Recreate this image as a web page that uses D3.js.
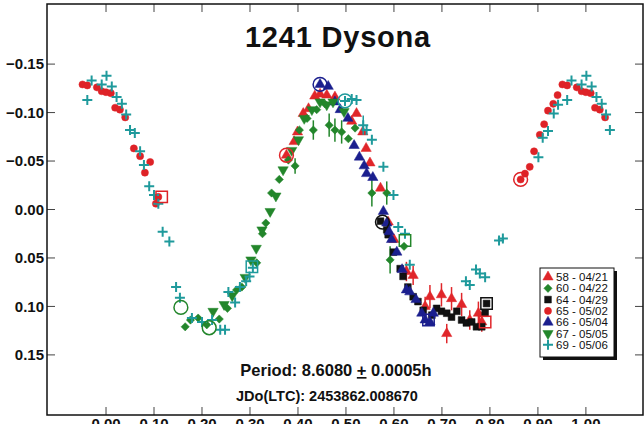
<!DOCTYPE html>
<html>
<head>
<meta charset="utf-8">
<script src="https://cdn.jsdelivr.net/npm/d3@7"></script>
<style>
  body { margin: 0; background: #fff; }
  svg { display: block; font-family: "Liberation Sans", Arial, sans-serif; }
</style>
</head>
<body>
<div class="center"></div>
<script>
// lightcurve data: [phase, magnitude, error]
var s58 = [[0.376,-0.056,0],[0.392,-0.070,0],[0.399,-0.080,0],[0.411,-0.099,0],[0.422,-0.104,0],[0.435,-0.117,0],
  [0.446,-0.119,0],[0.460,-0.118,0],[0.477,-0.116,0],[0.512,-0.091,0],[0.522,-0.099,0],[0.535,-0.080,0],
  [0.542,-0.063,0],[0.550,-0.048,0],[0.572,-0.022,0],[0.588,0.013,0],[0.600,0.031,0],[0.626,0.064,0.010],
  [0.640,0.068,0.010],[0.665,0.100,0.010],[0.675,0.090,0.012],[0.699,0.088,0.012],[0.710,0.128,0.010],
  [0.720,0.092,0.012],[0.741,0.098,0.012],[0.758,0.114,0.010],[0.776,0.107,0.012],[0.783,0.116,0.010]];
var s60 = [[0.165,0.121,0],[0.176,0.114,0],[0.192,0.112,0],[0.210,0.119,0],[0.236,0.113,0],[0.253,0.102,0],
  [0.272,0.083,0],[0.283,0.080,0],[0.314,0.055,0],[0.326,0.025,0],[0.333,0.014,0],[0.345,-0.017,0],
  [0.361,-0.031,0],[0.380,-0.051,0],[0.394,-0.045,0.008],[0.403,-0.082,0],[0.419,-0.094,0],[0.432,-0.082,0.010],
  [0.439,-0.103,0],[0.456,-0.109,0],[0.465,-0.087,0.012],[0.477,-0.082,0.012],[0.491,-0.080,0.012],
  [0.505,-0.073,0],[0.519,-0.084,0],[0.554,-0.017,0.014],[0.585,-0.017,0.012],[0.592,0.052,0.014],[0.621,0.038,0]];
var s64 = [[0.572,0.012,0],[0.585,0.021,0],[0.588,0.026,0],[0.599,0.044,0],[0.613,0.061,0],[0.619,0.069,0],
  [0.629,0.080,0],[0.640,0.090,0],[0.650,0.095,0],[0.661,0.104,0],[0.679,0.109,0],[0.689,0.102,0],
  [0.699,0.105,0],[0.710,0.107,0],[0.720,0.111,0],[0.731,0.105,0],[0.741,0.114,0],[0.751,0.117,0],
  [0.762,0.116,0],[0.772,0.121,0],[0.783,0.121,0],[0.790,0.107,0],[0.793,0.097,0]];
var s65 = [[0.864,-0.031,0],[0.873,-0.037,0],[0.883,-0.044,0],[0.892,-0.060,0],[0.904,-0.077,0],[0.913,-0.088,0],
  [0.921,-0.102,0],[0.932,-0.109,0],[0.941,-0.118,0],[0.951,-0.129,0],[0.961,-0.128,0],[0.981,-0.126,0],
  [0.991,-0.122,0],[0.000,-0.121,0],[0.010,-0.120,0],[0.019,-0.105,0],[0.029,-0.103,0],[0.040,-0.095,0],
  [0.058,-0.063,0],[0.071,-0.055,0],[0.081,-0.038,0],[0.092,-0.049,0],[0.104,-0.006,0],[0.109,-0.013,0]];
var s66 = [[0.446,-0.129,0],[0.463,-0.127,0],[0.477,-0.111,0],[0.488,-0.103,0],[0.504,-0.094,0],[0.517,-0.066,0],
  [0.528,-0.054,0],[0.538,-0.045,0],[0.543,-0.037,0],[0.556,-0.033,0],[0.578,0.002,0],[0.585,0.014,0],
  [0.590,0.023,0],[0.595,0.031,0],[0.606,0.044,0],[0.617,0.062,0],[0.626,0.083,0],[0.633,0.085,0],
  [0.646,0.093,0],[0.658,0.107,0],[0.665,0.114,0],[0.675,0.116,0],[0.682,0.107,0]];
var s67 = [[0.223,0.105,0],[0.246,0.098,0],[0.263,0.089,0],[0.290,0.070,0],[0.302,0.052,0],[0.313,0.040,0],
  [0.325,0.021,0],[0.342,0.002,0],[0.354,-0.014,0],[0.369,-0.041,0],[0.387,-0.061,0],[0.401,-0.072,0],
  [0.413,-0.094,0],[0.429,-0.103,0],[0.446,-0.111,0],[0.460,-0.108,0],[0.473,-0.111,0],[0.496,-0.101,0]];
var s69 = [[0.901,-0.054,0],[0.910,-0.074,0],[0.921,-0.081,0],[0.933,-0.099,0],[0.942,-0.108,0],[0.961,-0.113,0],
  [0.970,-0.133,0],[0.991,-0.129,0],[0.001,-0.138,0],[0.012,-0.127,0],[0.022,-0.116,0],[0.033,-0.109,0],
  [0.042,-0.098,0],[0.050,-0.082,0],[0.060,-0.079,0],[0.071,-0.060,0],[0.079,-0.046,0],[0.090,-0.024,0],
  [0.100,-0.015,0],[0.109,-0.006,0],[0.118,0.023,0],[0.132,0.033,0],[0.146,0.080,0],[0.154,0.091,0],
  [0.179,0.112,0],[0.200,0.116,0],[0.221,0.114,0],[0.238,0.124,0],[0.248,0.124,0],[0.255,0.085,0],
  [0.269,0.096,0],[0.279,0.080,0],[0.292,0.074,0],[0.299,0.069,0],[0.306,0.060,0],
  [0.498,-0.112,0],[0.512,-0.114,0],[0.522,-0.113,0],[0.536,-0.087,0.010],[0.543,-0.082,0],[0.554,-0.072,0],
  [0.578,-0.044,0],[0.599,-0.015,0],[0.609,0.018,0],[0.623,0.025,0],[0.633,0.057,0],
  [0.750,0.074,0],[0.758,0.078,0],[0.771,0.062,0],[0.779,0.066,0],[0.790,0.070,0],[0.819,0.032,0],[0.827,0.030,0]];

// session start (circle) / end (square) markers: [series, phase, mag, kind]
var marks = [["58",0.376,-0.056,"c"],["58",0.790,0.116,"s"],["60",0.156,0.101,"c"],["60",0.623,0.032,"s"],
  ["64",0.576,0.013,"c"],["64",0.793,0.097,"s"],["65",0.864,-0.031,"c"],["65",0.116,-0.013,"s"],
  ["66",0.446,-0.129,"c"],["66",0.672,0.114,"s"],["67",0.215,0.122,"c"],["69",0.498,-0.112,"c"],["69",0.304,0.059,"s"]];

var seriesIds = ["58","60","64","65","66","67","69"];
var seriesDates = ["04/21","04/22","04/29","05/02","05/04","05/05","05/06"];
var xTicks = [0,0.1,0.2,0.3,0.4,0.5,0.6,0.7,0.8,0.9,1.0];
var yTicks = [-0.15,-0.10,-0.05,0.00,0.05,0.10,0.15];

var seriesData = {"58": s58, "60": s60, "64": s64, "65": s65, "66": s66, "67": s67, "69": s69};
var colors = {"58": "#e0262a", "60": "#23862b", "64": "#111111", "65": "#de2227",
              "66": "#1b1f8e", "67": "#23862b", "69": "#1f9a9c"};
var shapes = {"58": "tri", "60": "dia", "64": "sq", "65": "circ", "66": "tri", "67": "tridown", "69": "plus"};

var W = 644, H = 424;
var frame = {left: 47, top: 4, right: 643, bottom: 415};

var x = d3.scaleLinear().domain([-0.123, 1.119]).range([frame.left, frame.right]);
var y = d3.scaleLinear().domain([-0.212, 0.212]).range([frame.top, frame.bottom]);

var svg = d3.select(".center").append("svg")
    .attr("width", W)
    .attr("height", H);

function symbolPath(kind) {
  if (kind == "tri") return d3.symbol(d3.symbolTriangle, 46)();
  if (kind == "tridown") return d3.symbol(d3.symbolTriangle, 46)();
  if (kind == "sq") return d3.symbol(d3.symbolSquare, 46)();
  if (kind == "dia") return d3.symbol(d3.symbolSquare, 34)();
  if (kind == "circ") return d3.symbol(d3.symbolCircle, 40)();
  return "M-5,0H5M0,-5V5";
}
function symbolRot(kind) {
  if (kind == "tridown") return " rotate(180)";
  if (kind == "dia") return " rotate(45)";
  return "";
}

// ticks inside the frame on all four sides
var tk = svg.append("g").attr("stroke", "#444").attr("stroke-width", 1);
xTicks.forEach(function(t) {
  tk.append("line").attr("x1", x(t)).attr("x2", x(t)).attr("y1", frame.bottom).attr("y2", frame.bottom - 8);
  tk.append("line").attr("x1", x(t)).attr("x2", x(t)).attr("y1", frame.top).attr("y2", frame.top + 8);
});
yTicks.forEach(function(t) {
  tk.append("line").attr("y1", y(t)).attr("y2", y(t)).attr("x1", frame.left).attr("x2", frame.left + 8);
  tk.append("line").attr("y1", y(t)).attr("y2", y(t)).attr("x1", frame.right).attr("x2", frame.right - 8);
});

// tick labels (the bottom row is clipped by the page edge, as in the original)
svg.append("g").selectAll("text").data(yTicks).enter().append("text")
    .attr("x", 44).attr("y", function(d) { return y(d); })
    .attr("dy", "0.36em").attr("text-anchor", "end")
    .attr("font-size", 15).attr("font-weight", "bold").attr("fill", "#111")
    .text(function(d) { return d3.format(".2f")(d); });
svg.append("g").selectAll("text").data(xTicks).enter().append("text")
    .attr("x", function(d) { return x(d); }).attr("y", 429)
    .attr("text-anchor", "middle")
    .attr("font-size", 15).attr("font-weight", "bold").attr("fill", "#111")
    .text(function(d) { return d3.format(".2f")(d); });

// frame
svg.append("rect")
    .attr("x", frame.left).attr("y", frame.top)
    .attr("width", frame.right - frame.left).attr("height", frame.bottom - frame.top)
    .attr("fill", "none").attr("stroke", "#111").attr("stroke-width", 1.5);

// points, repeated one cycle either side inside the phase window
function wrapped(arr) {
  var out = [];
  arr.forEach(function(d) {
    [-1, 0, 1].forEach(function(k) {
      var p = d[0] + k;
      if (p >= -0.052 && p <= 1.052) out.push([p, d[1], d[2]]);
    });
  });
  return out;
}

var plot = svg.append("g");
seriesIds.forEach(function(id) {
  var pts = wrapped(seriesData[id]);
  var g = plot.append("g");
  g.selectAll("line.err").data(pts.filter(function(d) { return d[2] > 0; })).enter().append("line")
      .attr("x1", function(d) { return x(d[0]); }).attr("x2", function(d) { return x(d[0]); })
      .attr("y1", function(d) { return y(d[1] - d[2]); }).attr("y2", function(d) { return y(d[1] + d[2]); })
      .attr("stroke", colors[id]).attr("stroke-width", 1.5);
  var plus = shapes[id] == "plus";
  g.selectAll("path.pt").data(pts).enter().append("path")
      .attr("d", symbolPath(shapes[id]))
      .attr("transform", function(d) { return "translate(" + x(d[0]) + "," + y(d[1]) + ")" + symbolRot(shapes[id]); })
      .attr("fill", plus ? "none" : colors[id])
      .attr("stroke", colors[id])
      .attr("stroke-width", plus ? 2 : 0.5);
});

// start / end markers
plot.append("g").selectAll("path").data(marks).enter().append("path")
    .attr("d", function(d) { return d[3] == "c" ? d3.symbol(d3.symbolCircle, 150)() : d3.symbol(d3.symbolSquare, 130)(); })
    .attr("transform", function(d) { return "translate(" + x(d[1]) + "," + y(d[2]) + ")"; })
    .attr("fill", "none").attr("stroke", function(d) { return colors[d[0]]; }).attr("stroke-width", 1.5);

// title and notes
svg.append("text").attr("x", 338).attr("y", 47).attr("text-anchor", "middle")
    .attr("font-size", 29).attr("font-weight", "bold").attr("letter-spacing", 0.8)
    .attr("fill", "#111").text("1241 Dysona");

var per = svg.append("text").attr("x", 336).attr("y", 376).attr("text-anchor", "middle")
    .attr("font-size", 16.5).attr("font-weight", "bold").attr("fill", "#111");
per.append("tspan").text("Period: 8.6080 ");
per.append("tspan").attr("text-decoration", "underline").text("+");
per.append("tspan").text(" 0.0005h");

svg.append("text").attr("x", 327).attr("y", 401).attr("text-anchor", "middle")
    .attr("font-size", 14.5).attr("font-weight", "bold").attr("fill", "#111")
    .text("JDo(LTC): 2453862.008670");

// legend
var lg = svg.append("g");
lg.append("rect").attr("x", 543).attr("y", 271).attr("width", 74).attr("height", 89).attr("fill", "#111");
lg.append("rect").attr("x", 540).attr("y", 268).attr("width", 74).attr("height", 89)
    .attr("fill", "#fff").attr("stroke", "#111").attr("stroke-width", 1);
seriesIds.forEach(function(id, i) {
  var cy = 277 + i * 11.3;
  lg.append("path")
      .attr("d", symbolPath(shapes[id]))
      .attr("transform", "translate(548," + cy + ")" + symbolRot(shapes[id]))
      .attr("fill", shapes[id] == "plus" ? "none" : colors[id])
      .attr("stroke", colors[id]).attr("stroke-width", shapes[id] == "plus" ? 2 : 0.5);
  lg.append("text").attr("x", 556).attr("y", cy).attr("dy", "0.36em")
      .attr("font-size", 11.5).attr("fill", "#111")
      .text(id + " - " + seriesDates[i]);
});
</script>
</body>
</html>
